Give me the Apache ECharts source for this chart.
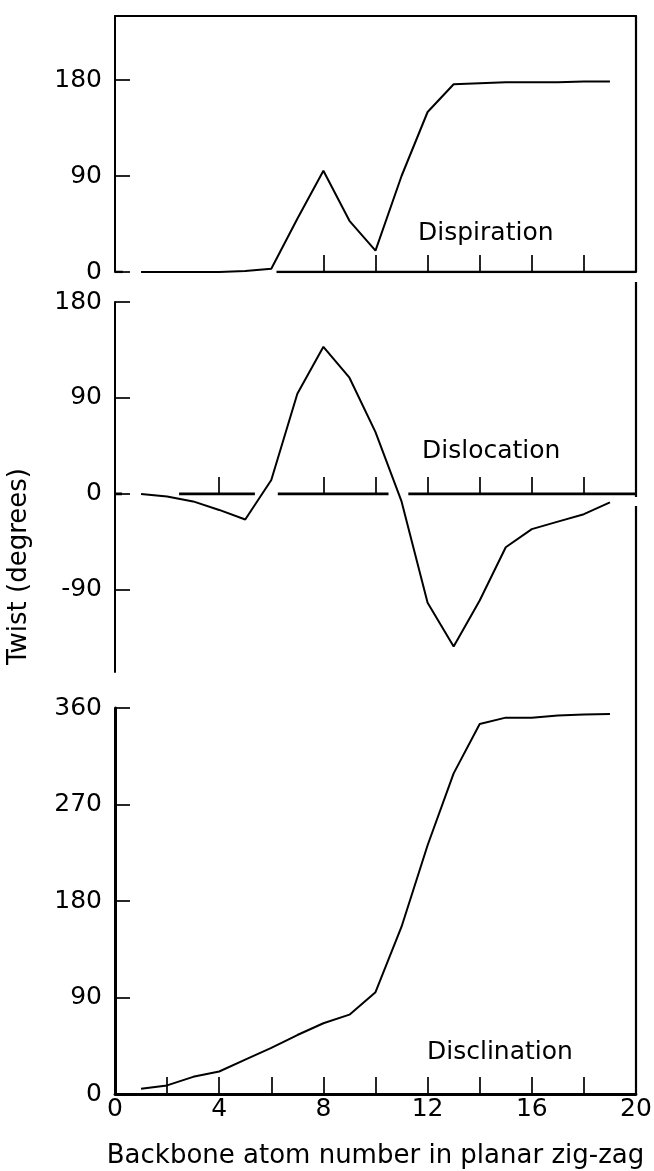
<!DOCTYPE html>
<html><head><meta charset="utf-8">
<script src="https://cdn.jsdelivr.net/npm/echarts@6/dist/echarts.min.js"></script>
<style>html,body{margin:0;padding:0;background:#fff}#c{width:654px;height:1171px}</style>
</head><body><div id="c"></div>
<script>
// ---- data ----
const atoms = [1,2,3,4,5,6,7,8,9,10,11,12,13,14,15,16,17,18,19];
const dispiration = [0,0,0,0,1,3,50,95,48,20,90,150,176,177,178,178,178,178.5,178.5];
const dislocation = [0,-2.5,-7,-15,-24,13,94,138,109,58,-7,-102,-143,-100,-50,-33,-26,-19,-8];
const disclination = [5,8,16,21,32,43,55,66,74,95,156,232,299,345,351,351,353,354,354.5];
const xTickLabels = [0,4,8,12,16,20];
const yTicksTop = [0,90,180];
const yTicksMid = [-90,0,90,180];
const yTicksBottom = [0,90,180,270,360];
const xTicksTop = [8,10,12,14,16,18];
const xTicksMid = [4,8,10,12,14,16,18];
const xTicksBottom = [2,4,6,8,10,12,14,16,18];
const panelNames = ['Dispiration','Dislocation','Disclination'];
// broken zero line segments (atom-number units)
const zeroSegTop = [[0,0.3],[6.2,20]];
const zeroSegMid = [[0,0.27],[2.46,5.37],[6.25,10.5],[11.26,20]];

const FONT = 'DejaVu Sans';
const K = '#000';
const pair = (xs, ys) => xs.map((x,i)=>[x, ys[i]]);

const grids = [
  {left:115, right:18, top:16, height:256, outerBoundsMode:'none'},
  {left:115, right:18, top:302, height:370, outerBoundsMode:'none'},
  {left:115, right:18, top:708, height:386, outerBoundsMode:'none'}
];
const yRanges = [[0,240],[-167,180],[0,360]];
const yTicks = [yTicksTop, yTicksMid, yTicksBottom];
const xTicks = [xTicksTop, xTicksMid, xTicksBottom];
const yAxisWidths = [2, 2, 3];

const xAxes = [], yAxes = [];
for (let g=0; g<3; g++) {
  xAxes.push({
    type:'value', gridIndex:g, min:0, max:20, position:'bottom',
    axisLine:{show:true, onZero:true, lineStyle:{color:K, width: g===2?2.8:0, opacity: g===2?1:0}},
    axisTick:{show:true, inside:true, length:17, customValues:xTicks[g], lineStyle:{color:K, width:1.7}},
    axisLabel:{show:g===2, customValues:xTickLabels, color:K, fontFamily:FONT, fontSize:25, margin:3},
    splitLine:{show:false},
    name: g===2 ? 'Backbone atom number in planar zig-zag' : '',
    nameLocation:'middle', nameGap:49,
    nameTextStyle:{color:K, fontFamily:FONT, fontSize:26}
  });
  yAxes.push({
    type:'value', gridIndex:g, min:yRanges[g][0], max:yRanges[g][1], position:'left',
    axisLine:{show:true, onZero:false, lineStyle:{color:K, width:yAxisWidths[g]}},
    axisTick:{show:true, inside:true, length:15, customValues:yTicks[g], lineStyle:{color:K, width:1.7}},
    axisLabel:{customValues:yTicks[g], color:K, fontFamily:FONT, fontSize:25, margin:13},
    splitLine:{show:false}
  });
  yAxes.push({
    type:'value', gridIndex:g, min:yRanges[g][0], max:yRanges[g][1], position:'right',
    axisLine:{show:true, onZero:false, lineStyle:{color:K, width:2.2}},
    axisTick:{show:false}, axisLabel:{show:false}, splitLine:{show:false}
  });
}
// top border of top panel
xAxes.push({
  type:'value', gridIndex:0, min:0, max:20, position:'top',
  axisLine:{show:true, onZero:false, lineStyle:{color:K, width:2}},
  axisTick:{show:false}, axisLabel:{show:false}, splitLine:{show:false}
});

const lineStyle = {color:K, width:2};
const series = [
  {type:'line', xAxisIndex:0, yAxisIndex:0, data:pair(atoms,dispiration), showSymbol:false, symbol:'none', lineStyle, z:5},
  {type:'line', xAxisIndex:1, yAxisIndex:2, data:pair(atoms,dislocation), showSymbol:false, symbol:'none', lineStyle, z:5},
  {type:'line', xAxisIndex:2, yAxisIndex:4, data:pair(atoms,disclination), showSymbol:false, symbol:'none', lineStyle, z:5}
];
zeroSegTop.forEach(s => series.push({type:'line', xAxisIndex:0, yAxisIndex:0, data:[[s[0],0],[s[1],0]], symbol:'none', lineStyle:{color:K, width:2.6}, z:4, silent:true}));
zeroSegMid.forEach(s => series.push({type:'line', xAxisIndex:1, yAxisIndex:2, data:[[s[0],0],[s[1],0]], symbol:'none', lineStyle:{color:K, width:2.8}, z:4, silent:true}));

const labelStyle = {fill:K, font:'25px "DejaVu Sans"', textAlign:'left', textVerticalAlign:'middle'};
const option = {
  backgroundColor:'#fff',
  animation:false,
  grid: grids,
  xAxis: xAxes,
  yAxis: yAxes,
  series,
  graphic: [
    {type:'text', left:418, top:221, style:Object.assign({text:panelNames[0]}, labelStyle)},
    {type:'text', left:422, top:439, style:Object.assign({text:panelNames[1]}, labelStyle)},
    {type:'text', left:427, top:1040, style:Object.assign({text:panelNames[2]}, labelStyle)},
    {type:'text', left:6, top:468, rotation:Math.PI/2, style:Object.assign({text:'Twist (degrees)'}, labelStyle, {font:'26px "DejaVu Sans"'})},
    // right border: starts a little above the middle panel, continues down into the bottom panel
    {type:'line', shape:{x1:636, y1:282, x2:636, y2:302}, style:{stroke:K, lineWidth:2.2}},
    {type:'line', shape:{x1:636, y1:672, x2:636, y2:708}, style:{stroke:K, lineWidth:2.2}},
    // small break in the right border just below the middle zero line
    {type:'rect', shape:{x:633, y:497, width:6, height:9}, style:{fill:'#fff'}, z:10}
  ]
};
const chart = echarts.init(document.getElementById('c'));
chart.setOption(option);
</script></body></html>
